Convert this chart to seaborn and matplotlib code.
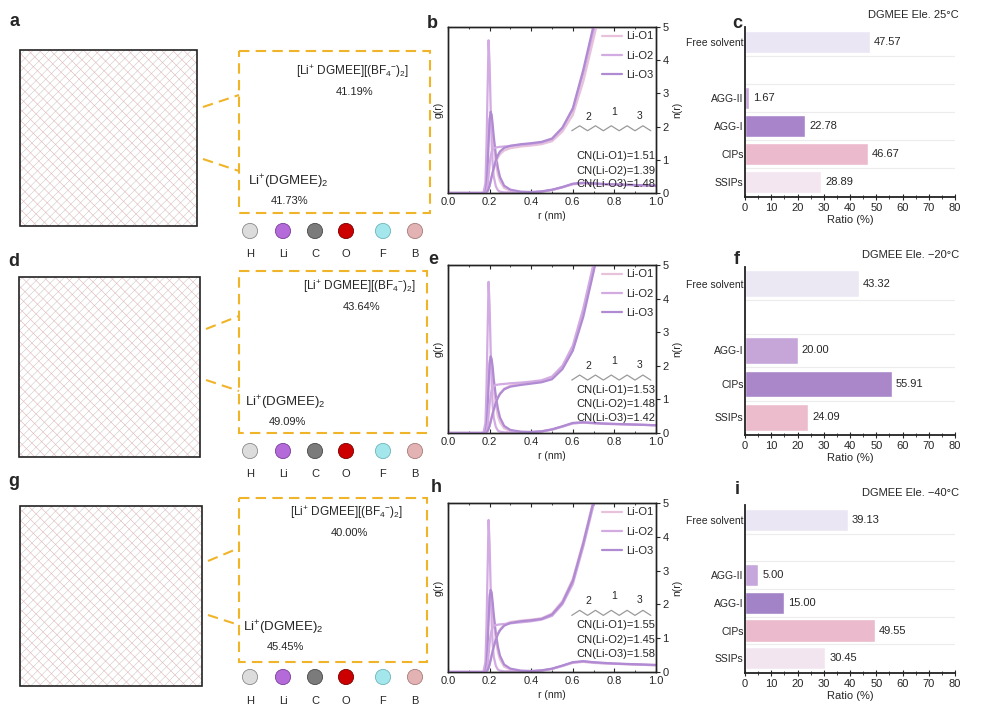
import numpy as np
import pandas as pd
import matplotlib
matplotlib.use('Agg')
import matplotlib.pyplot as plt
import seaborn as sns
from matplotlib.patches import Rectangle

W, H = 994, 713

# ---- RDF data ----
r_nm = [0.00, 0.16, 0.17, 0.18, 0.185, 0.19, 0.195, 0.20, 0.205, 0.21, 0.215, 0.22, 0.23, 0.24, 0.25,
        0.27, 0.30, 0.35, 0.40, 0.45, 0.50, 0.55, 0.60, 0.65, 0.70, 0.75, 0.80, 0.90, 1.00]
pair_names = ['Li-O1', 'Li-O2', 'Li-O3']

b_g_o1 = [0, 0, 0, 0.05, 0.3, 0.9, 1.7, 2.25, 2.3, 2.1, 1.75, 1.4, 0.9, 0.55, 0.35, 0.15, 0.07, 0.03, 0.02, 0.04, 0.09, 0.17, 0.26, 0.29, 0.27, 0.26, 0.25, 0.23, 0.21]
b_g_o2 = [0, 0, 0, 0.3, 1.4, 3.0, 4.6, 3.9, 2.6, 1.5, 0.85, 0.5, 0.2, 0.08, 0.04, 0.02, 0.02, 0.02, 0.02, 0.04, 0.09, 0.17, 0.27, 0.3, 0.28, 0.27, 0.26, 0.24, 0.22]
b_g_o3 = [0, 0, 0, 0.03, 0.2, 0.7, 1.5, 2.2, 2.45, 2.35, 2.05, 1.7, 1.15, 0.75, 0.48, 0.22, 0.1, 0.04, 0.03, 0.05, 0.1, 0.18, 0.28, 0.31, 0.29, 0.27, 0.26, 0.24, 0.22]
b_n_o1 = [0, 0, 0, 0, 0.02, 0.06, 0.13, 0.23, 0.36, 0.49, 0.61, 0.73, 0.93, 1.07, 1.17, 1.28, 1.35, 1.4, 1.43, 1.47, 1.56, 1.85, 2.35, 3.35, 4.65, 6.0, 7.5, 10.6, 14.0]
b_n_o2 = [0, 0, 0, 0.01, 0.05, 0.2, 0.5, 0.85, 1.1, 1.25, 1.31, 1.34, 1.37, 1.38, 1.39, 1.4, 1.42, 1.45, 1.48, 1.52, 1.62, 1.95, 2.5, 3.6, 4.9, 6.3, 7.8, 11.0, 14.5]
b_n_o3 = [0, 0, 0, 0, 0.02, 0.05, 0.12, 0.22, 0.35, 0.5, 0.63, 0.76, 0.98, 1.14, 1.25, 1.36, 1.42, 1.47, 1.5, 1.54, 1.64, 1.97, 2.55, 3.7, 5.05, 6.5, 8.0, 11.2, 14.8]
b_cn = [1.51, 1.39, 1.48]

e_g_o1 = [0, 0, 0, 0.04, 0.25, 0.8, 1.6, 2.15, 2.2, 2.0, 1.65, 1.3, 0.85, 0.5, 0.32, 0.14, 0.06, 0.03, 0.02, 0.04, 0.1, 0.19, 0.28, 0.31, 0.29, 0.27, 0.26, 0.25, 0.23]
e_g_o2 = [0, 0, 0, 0.3, 1.3, 2.9, 4.5, 3.8, 2.5, 1.45, 0.8, 0.45, 0.18, 0.07, 0.04, 0.02, 0.02, 0.02, 0.03, 0.05, 0.1, 0.19, 0.29, 0.31, 0.29, 0.28, 0.27, 0.25, 0.23]
e_g_o3 = [0, 0, 0, 0.03, 0.18, 0.65, 1.4, 2.05, 2.28, 2.2, 1.95, 1.6, 1.1, 0.72, 0.46, 0.21, 0.09, 0.04, 0.03, 0.05, 0.11, 0.2, 0.3, 0.32, 0.3, 0.28, 0.27, 0.25, 0.23]
e_n_o1 = [0, 0, 0, 0, 0.02, 0.06, 0.13, 0.23, 0.35, 0.48, 0.6, 0.72, 0.92, 1.07, 1.18, 1.32, 1.41, 1.46, 1.5, 1.54, 1.64, 1.95, 2.5, 3.55, 4.9, 6.3, 7.8, 11.0, 14.5]
e_n_o2 = [0, 0, 0, 0.01, 0.05, 0.2, 0.5, 0.85, 1.12, 1.28, 1.36, 1.4, 1.43, 1.44, 1.45, 1.46, 1.48, 1.5, 1.53, 1.57, 1.68, 2.0, 2.6, 3.7, 5.05, 6.5, 8.0, 11.3, 14.8]
e_n_o3 = [0, 0, 0, 0, 0.02, 0.05, 0.12, 0.21, 0.33, 0.46, 0.58, 0.7, 0.9, 1.05, 1.16, 1.3, 1.38, 1.43, 1.47, 1.51, 1.6, 1.9, 2.45, 3.45, 4.8, 6.2, 7.7, 10.9, 14.3]
e_cn = [1.53, 1.48, 1.42]

h_g_o1 = [0, 0, 0, 0.05, 0.3, 0.9, 1.7, 2.3, 2.35, 2.15, 1.8, 1.45, 0.95, 0.58, 0.37, 0.16, 0.07, 0.03, 0.02, 0.04, 0.09, 0.18, 0.27, 0.3, 0.27, 0.25, 0.24, 0.22, 0.2]
h_g_o2 = [0, 0, 0, 0.3, 1.35, 2.9, 4.5, 3.8, 2.5, 1.45, 0.8, 0.45, 0.18, 0.07, 0.04, 0.02, 0.02, 0.02, 0.02, 0.04, 0.09, 0.18, 0.28, 0.31, 0.28, 0.26, 0.25, 0.22, 0.2]
h_g_o3 = [0, 0, 0, 0.03, 0.2, 0.7, 1.5, 2.2, 2.43, 2.35, 2.05, 1.7, 1.15, 0.75, 0.48, 0.22, 0.1, 0.04, 0.03, 0.05, 0.1, 0.19, 0.29, 0.32, 0.29, 0.27, 0.25, 0.23, 0.21]
h_n_o1 = [0, 0, 0, 0, 0.02, 0.06, 0.13, 0.24, 0.37, 0.51, 0.64, 0.77, 0.98, 1.14, 1.26, 1.4, 1.48, 1.52, 1.55, 1.59, 1.73, 2.1, 2.75, 3.85, 5.1, 6.6, 8.1, 11.4, 15.0]
h_n_o2 = [0, 0, 0, 0.01, 0.05, 0.2, 0.5, 0.85, 1.1, 1.25, 1.32, 1.36, 1.39, 1.4, 1.41, 1.42, 1.44, 1.47, 1.5, 1.55, 1.66, 2.0, 2.6, 3.7, 4.95, 6.4, 7.9, 11.2, 14.7]
h_n_o3 = [0, 0, 0, 0, 0.02, 0.05, 0.12, 0.22, 0.35, 0.49, 0.62, 0.75, 0.96, 1.12, 1.23, 1.37, 1.45, 1.5, 1.53, 1.57, 1.7, 2.05, 2.7, 3.8, 5.05, 6.5, 8.0, 11.3, 14.9]
h_cn = [1.55, 1.45, 1.58]

# ---- solvation structure ratios ----
c_states = ['Free solvent', 'AGG-II', 'AGG-I', 'CIPs', 'SSIPs']
c_ratio = [47.57, 1.67, 22.78, 46.67, 28.89]
f_states = ['Free solvent', 'AGG-I', 'CIPs', 'SSIPs']
f_ratio = [43.32, 20.00, 55.91, 24.09]
i_states = ['Free solvent', 'AGG-II', 'AGG-I', 'CIPs', 'SSIPs']
i_ratio = [39.13, 5.00, 15.00, 49.55, 30.45]

# cluster fractions shown in the snapshot boxes
cluster_pct = [('41.19%', '41.73%'), ('43.64%', '49.09%'), ('40.00%', '45.45%')]
atoms = ['H', 'Li', 'C', 'O', 'F', 'B']

sns.set_style('ticks')
plt.rcParams['font.family'] = ['Liberation Sans', 'DejaVu Sans']
plt.rcParams['mathtext.default'] = 'regular'
plt.rcParams['hatch.linewidth'] = 0.35
FS = 7.5

pair_colors = ['#e7c2da', '#d2abe2', '#b08ad3']
atom_colors = ['#dcdcdc', '#b46ad8', '#7b7b7b', '#cc0000', '#a3e6ec', '#e3b2b2']
atom_edges = ['#8a8a8a', '#7a3f9a', '#4a4a4a', '#7a0000', '#6fb5bb', '#a87c7c']

fig = plt.figure(figsize=(W / 100, H / 100), dpi=100)


def rect(x0, y0, x1, y1):
    return [x0 / W, 1 - y1 / H, (x1 - x0) / W, (y1 - y0) / H]


# ---- left column: snapshots + cluster boxes (drawn in pixel space) ----
ov = fig.add_axes([0, 0, 1, 1])
ov.set_xlim(0, W)
ov.set_ylim(H, 0)
ov.axis('off')

rows = [
    dict(sq=(20, 50, 197, 226), box=(239, 51, 430, 213), lines=[(107, 95), (159, 171)],
         t1=(353, 72), t2=(288, 182), circ=231, lab=254),
    dict(sq=(19, 277, 200, 457), box=(239, 271, 427, 433), lines=[(329, 316), (380, 391)],
         t1=(360, 287), t2=(285, 403), circ=451, lab=474),
    dict(sq=(20, 506, 202, 686), box=(239, 498, 427, 662), lines=[(561, 548), (615, 625)],
         t1=(347, 513), t2=(283, 628), circ=677, lab=701),
]
atom_x = [250, 283, 315, 346, 383, 415]

for row, (p1, p2) in zip(rows, cluster_pct):
    x0, y0, x1, y1 = row['sq']
    # solvent network texture: grey and red bonds
    ov.add_patch(Rectangle((x0, y0), x1 - x0, y1 - y0, facecolor='white', edgecolor='#c4c4c4',
                           hatch='////', lw=0))
    ov.add_patch(Rectangle((x0, y0), x1 - x0, y1 - y0, facecolor='none', edgecolor='#e3a6a6',
                           hatch='\\\\\\', lw=0))
    ov.add_patch(Rectangle((x0, y0), x1 - x0, y1 - y0, facecolor='none', edgecolor='#222222', lw=1.2))
    bx0, by0, bx1, by1 = row['box']
    ov.add_patch(Rectangle((bx0, by0), bx1 - bx0, by1 - by0, facecolor='none', edgecolor='#f0b429',
                           lw=1.5, ls=(0, (5, 3))))
    for ys, ye in row['lines']:
        ov.plot([x1 + 6, bx0], [ys, ye], color='#f0b429', lw=1.5, ls=(0, (5, 3)))
    tx, ty = row['t1']
    ov.text(tx, ty, r'[Li$^{+}$ DGMEE][(BF$_{4}$$^{-}$)$_{2}$]', fontsize=8.5, ha='center', va='center')
    ov.text(tx + 2, ty + 20, p1, fontsize=FS + 0.5, ha='center', va='center')
    tx, ty = row['t2']
    ov.text(tx, ty, r'Li$^{+}$(DGMEE)$_{2}$', fontsize=9.5, ha='center', va='center')
    ov.text(tx + 2, ty + 19, p2, fontsize=FS + 0.5, ha='center', va='center')
    ov.scatter(atom_x, [row['circ']] * 6, s=120, c=atom_colors, edgecolors=atom_edges, linewidths=0.6)
    for ax_, name in zip(atom_x, atoms):
        ov.text(ax_, row['lab'], name, fontsize=FS + 0.5, ha='center', va='center')


# ---- middle column: RDF / coordination number ----
def rdf_panel(box, g_curves, n_curves, cn_vals, cn_y, chain_y):
    ax = fig.add_axes(rect(*box))
    for name, g, c in zip(pair_names, g_curves, pair_colors):
        sns.lineplot(x=r_nm, y=g, ax=ax, color=c, lw=1.6, label=name)
    if ax.get_legend():
        ax.get_legend().remove()
    ax.set_xlim(0, 1)
    ax.set_ylim(0, 5)
    ax.set_yticks([])
    ax.set_ylabel('g(r)', fontsize=FS, labelpad=3)
    ax.set_xlabel('r (nm)', fontsize=FS, labelpad=3)
    ax.set_xticks([0, 0.2, 0.4, 0.6, 0.8, 1.0])
    ax.set_xticks([0.1, 0.3, 0.5, 0.7, 0.9], minor=True)
    ax.tick_params(axis='x', which='both', direction='in', top=True, labelsize=FS + 0.5, pad=3)
    ax.tick_params(axis='x', which='major', length=3)
    ax.tick_params(axis='x', which='minor', length=1.5)

    ax2 = ax.twinx()
    for g, c in zip(n_curves, pair_colors):
        sns.lineplot(x=r_nm, y=g, ax=ax2, color=c, lw=1.6)
    ax2.set_ylim(0, 5)
    ax2.set_yticks([0, 1, 2, 3, 4, 5])
    ax2.set_ylabel('n(r)', fontsize=FS, labelpad=3)
    ax2.tick_params(axis='y', labelsize=FS + 0.5, length=3, pad=1.5)
    for sp in list(ax.spines.values()) + list(ax2.spines.values()):
        sp.set_linewidth(1.0)
        sp.set_color('#222222')

    handles, labels = ax.get_legend_handles_labels()
    ax2.legend(handles, labels, loc='upper right', bbox_to_anchor=(1.01, 1.0), frameon=False,
               fontsize=FS + 0.5, handlelength=1.8, handletextpad=0.4, labelspacing=0.85,
               borderaxespad=0)

    # skeletal chain with oxygen numbering
    zx = np.linspace(0.595, 0.975, 11)
    zy = [chain_y + (0.015 if k % 2 else -0.015) for k in range(11)]
    ax.plot(zx, zy, transform=ax.transAxes, color='#9a9a9a', lw=0.9)
    for lab, xx, dy in [('2', 0.675, 0.07), ('1', 0.8, 0.1), ('3', 0.92, 0.075)]:
        ax.text(xx, chain_y + dy, lab, transform=ax.transAxes, fontsize=FS, ha='center', va='center')
    for k, v in enumerate(cn_vals):
        ax.text(0.995, cn_y[k], f'CN(Li-O{k + 1})={v:.2f}', transform=ax.transAxes, fontsize=FS + 0.5,
                ha='right', va='center')


rdf_panel((448, 27, 656, 193), [b_g_o1, b_g_o2, b_g_o3], [b_n_o1, b_n_o2, b_n_o3], b_cn,
          [0.223, 0.134, 0.052], 0.39)
rdf_panel((448, 265, 656, 433), [e_g_o1, e_g_o2, e_g_o3], [e_n_o1, e_n_o2, e_n_o3], e_cn,
          [0.256, 0.173, 0.089], 0.33)
rdf_panel((448, 503, 656, 672), [h_g_o1, h_g_o2, h_g_o3], [h_n_o1, h_n_o2, h_n_o3], h_cn,
          [0.278, 0.19, 0.107], 0.35)


# ---- right column: solvation structure ratios ----
def bar_panel(box, states, ratio, colors, title, top_pad):
    ax = fig.add_axes(rect(*box))
    order = [states[0], ' '] + states[1:]
    df = pd.DataFrame({'state': states, 'ratio': ratio})
    sns.barplot(data=df, x='ratio', y='state', order=order, hue='state',
                palette=dict(zip(states, colors)), legend=False, width=0.8, saturation=1, ax=ax)
    for cont in ax.containers:
        ax.bar_label(cont, fmt='%.2f', padding=3, fontsize=FS + 0.5)
    n = len(order)
    ax.hlines([k + 0.5 for k in range(n - 1)], 0, 80, color='#ececec', lw=0.8, zorder=0)
    ax.set_ylim(n - 1 + 0.53, -top_pad)
    ax.set_xlim(0, 80)
    ax.set_xticks(range(0, 81, 10))
    ax.set_xticks(range(5, 80, 10), minor=True)
    ax.tick_params(axis='x', which='both', direction='inout', labelsize=FS + 0.5, pad=2)
    ax.tick_params(axis='x', which='major', length=4)
    ax.tick_params(axis='x', which='minor', length=2.5)
    ax.tick_params(axis='y', length=0, labelsize=FS, pad=1)
    ax.set_xlabel('Ratio (%)', fontsize=FS + 0.5, labelpad=2)
    ax.set_ylabel('')
    sns.despine(ax=ax)
    for sp in ['left', 'bottom']:
        ax.spines[sp].set_linewidth(1.3)
        ax.spines[sp].set_color('#222222')
    ax.text(1.02, 1.07, title, transform=ax.transAxes, fontsize=FS + 0.5, ha='right', va='center')


bar_panel((745, 27, 955, 197), c_states, c_ratio,
          ['#ebe6f4', '#c9a9dc', '#a885cb', '#ecbacd', '#f3e6f0'], 'DGMEE Ele. 25°C', 0.53)
bar_panel((745, 267, 955, 435), f_states, f_ratio,
          ['#ebe8f4', '#c6a6d9', '#a987c9', '#ecbccd'], 'DGMEE Ele. \u221220°C', 0.5)
bar_panel((745, 505, 955, 673), i_states, i_ratio,
          ['#ebe6f4', '#c6a7db', '#a383c8', '#ebbacc', '#f2e5ef'], 'DGMEE Ele. \u221240°C', 0.53)

# panel letters
for lab, x, y in [('a', 14, 21), ('b', 432, 23), ('c', 737, 23),
                  ('d', 14, 262), ('e', 433, 260), ('f', 737, 260),
                  ('g', 14, 481), ('h', 436, 487), ('i', 737, 490)]:
    fig.text(x / W, 1 - y / H, lab, fontsize=13, fontweight='bold', ha='center', va='center')

fig.savefig('out.png', dpi=100)
